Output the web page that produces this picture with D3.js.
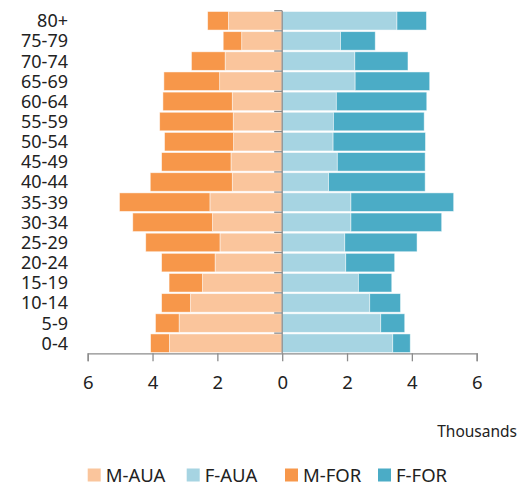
<!DOCTYPE html>
<html>
<head>
<meta charset="utf-8">
<script src="https://cdn.jsdelivr.net/npm/d3@7"></script>
<style>
  body { margin: 0; background: #fff; }
  text { font-family: "Noto Sans", "Open Sans", sans-serif; fill: #222; }
</style>
</head>
<body>
<svg id="chart" width="526" height="486"></svg>
<script>
// age groups, top to bottom
const ages = ["80+", "75-79", "70-74", "65-69", "60-64", "55-59", "50-54", "45-49", "40-44",
              "35-39", "30-34", "25-29", "20-24", "15-19", "10-14", "5-9", "0-4"];

// thousands
const mAua = [1.66, 1.25, 1.76, 1.93, 1.54, 1.51, 1.50, 1.58, 1.54, 2.23, 2.15, 1.92, 2.07, 2.46, 2.83, 3.18, 3.48];
const mFor = [0.64, 0.57, 1.04, 1.72, 2.14, 2.27, 2.13, 2.14, 2.53, 2.79, 2.46, 2.29, 1.65, 1.03, 0.89, 0.73, 0.58];
const fAua = [3.54, 1.80, 2.24, 2.25, 1.67, 1.58, 1.57, 1.70, 1.43, 2.12, 2.12, 1.93, 1.96, 2.35, 2.70, 3.04, 3.41];
const fFor = [0.91, 1.07, 1.64, 2.30, 2.79, 2.80, 2.85, 2.71, 2.98, 3.17, 2.80, 2.23, 1.51, 1.03, 0.95, 0.74, 0.54];

const xTicks = [-6, -4, -2, 0, 2, 4, 6];

const series = [
  { name: "M-AUA", color: "#fac59c" },
  { name: "F-AUA", color: "#a6d4e2" },
  { name: "M-FOR", color: "#f7974a" },
  { name: "F-FOR", color: "#4bacc6" }
];

const svg = d3.select("#chart");

const x = d3.scaleLinear().domain([-6, 6]).range([87.7, 476.7]);
const y = d3.scaleBand().domain(ages).range([10.7, 353.3]).paddingInner(0.08).paddingOuter(0.04);
const yEdge = d3.scaleLinear().domain([0, ages.length]).range([10.7, 353.3]);

// stacked segments: [start, end] in thousands, negative for males
const segs = [];
ages.forEach((a, i) => {
  segs.push({ age: a, x0: 0, x1: -mAua[i], color: series[0].color });
  segs.push({ age: a, x0: -mAua[i], x1: -mAua[i] - mFor[i], color: series[2].color });
  segs.push({ age: a, x0: 0, x1: fAua[i], color: series[1].color });
  segs.push({ age: a, x0: fAua[i], x1: fAua[i] + fFor[i], color: series[3].color });
});

svg.append("g")
  .selectAll("rect")
  .data(segs)
  .join("rect")
  .attr("x", d => x(Math.min(d.x0, d.x1)))
  .attr("width", d => Math.abs(x(d.x1) - x(d.x0)))
  .attr("y", d => y(d.age))
  .attr("height", y.bandwidth())
  .attr("fill", d => d.color)
  .attr("stroke", "#fff")
  .attr("stroke-opacity", 0.6)
  .attr("stroke-width", 0.8);

// zero axis with ticks at band edges
const zero = svg.append("g").attr("stroke", "#8c8c8c").attr("stroke-width", 1.3);
zero.append("line")
  .attr("x1", x(0)).attr("x2", x(0))
  .attr("y1", yEdge(0)).attr("y2", yEdge(ages.length));
zero.selectAll("line.tk")
  .data(d3.range(ages.length))
  .join("line")
  .attr("class", "tk")
  .attr("x1", x(0) - 8).attr("x2", x(0))
  .attr("y1", d => yEdge(d)).attr("y2", d => yEdge(d));

// age labels
svg.append("g")
  .selectAll("text")
  .data(ages)
  .join("text")
  .attr("x", 68)
  .attr("y", d => y(d) + y.bandwidth() / 2)
  .attr("dy", "0.36em")
  .attr("text-anchor", "end")
  .attr("font-size", 18)
  .text(d => d);

// bottom axis
const xAxis = svg.append("g")
  .attr("transform", `translate(0,${yEdge(ages.length)})`)
  .call(d3.axisBottom(x).tickValues(xTicks).tickSize(8).tickFormat(d => Math.abs(d)));
xAxis.select(".domain").attr("stroke", "#8c8c8c").attr("stroke-width", 1.3);
xAxis.selectAll(".tick line").attr("stroke", "#8c8c8c").attr("stroke-width", 1.3);
xAxis.selectAll(".tick text")
  .attr("y", 23)
  .attr("font-size", 18.5)
  .attr("font-family", "Noto Sans, sans-serif")
  .attr("fill", "#222");

svg.append("text")
  .attr("x", 517)
  .attr("y", 432)
  .attr("dy", "0.35em")
  .attr("text-anchor", "end")
  .attr("font-size", 15.5)
  .text("Thousands");

// legend
const legendX = [87.7, 186.7, 285, 378];
const leg = svg.append("g")
  .selectAll("g")
  .data(series)
  .join("g")
  .attr("transform", (d, i) => `translate(${legendX[i]},475)`);
leg.append("rect")
  .attr("x", 0).attr("y", -6.5)
  .attr("width", 13).attr("height", 13)
  .attr("fill", d => d.color);
leg.append("text")
  .attr("x", 18)
  .attr("dy", "0.36em")
  .attr("font-size", 18.5)
  .text(d => d.name);
</script>
</body>
</html>
